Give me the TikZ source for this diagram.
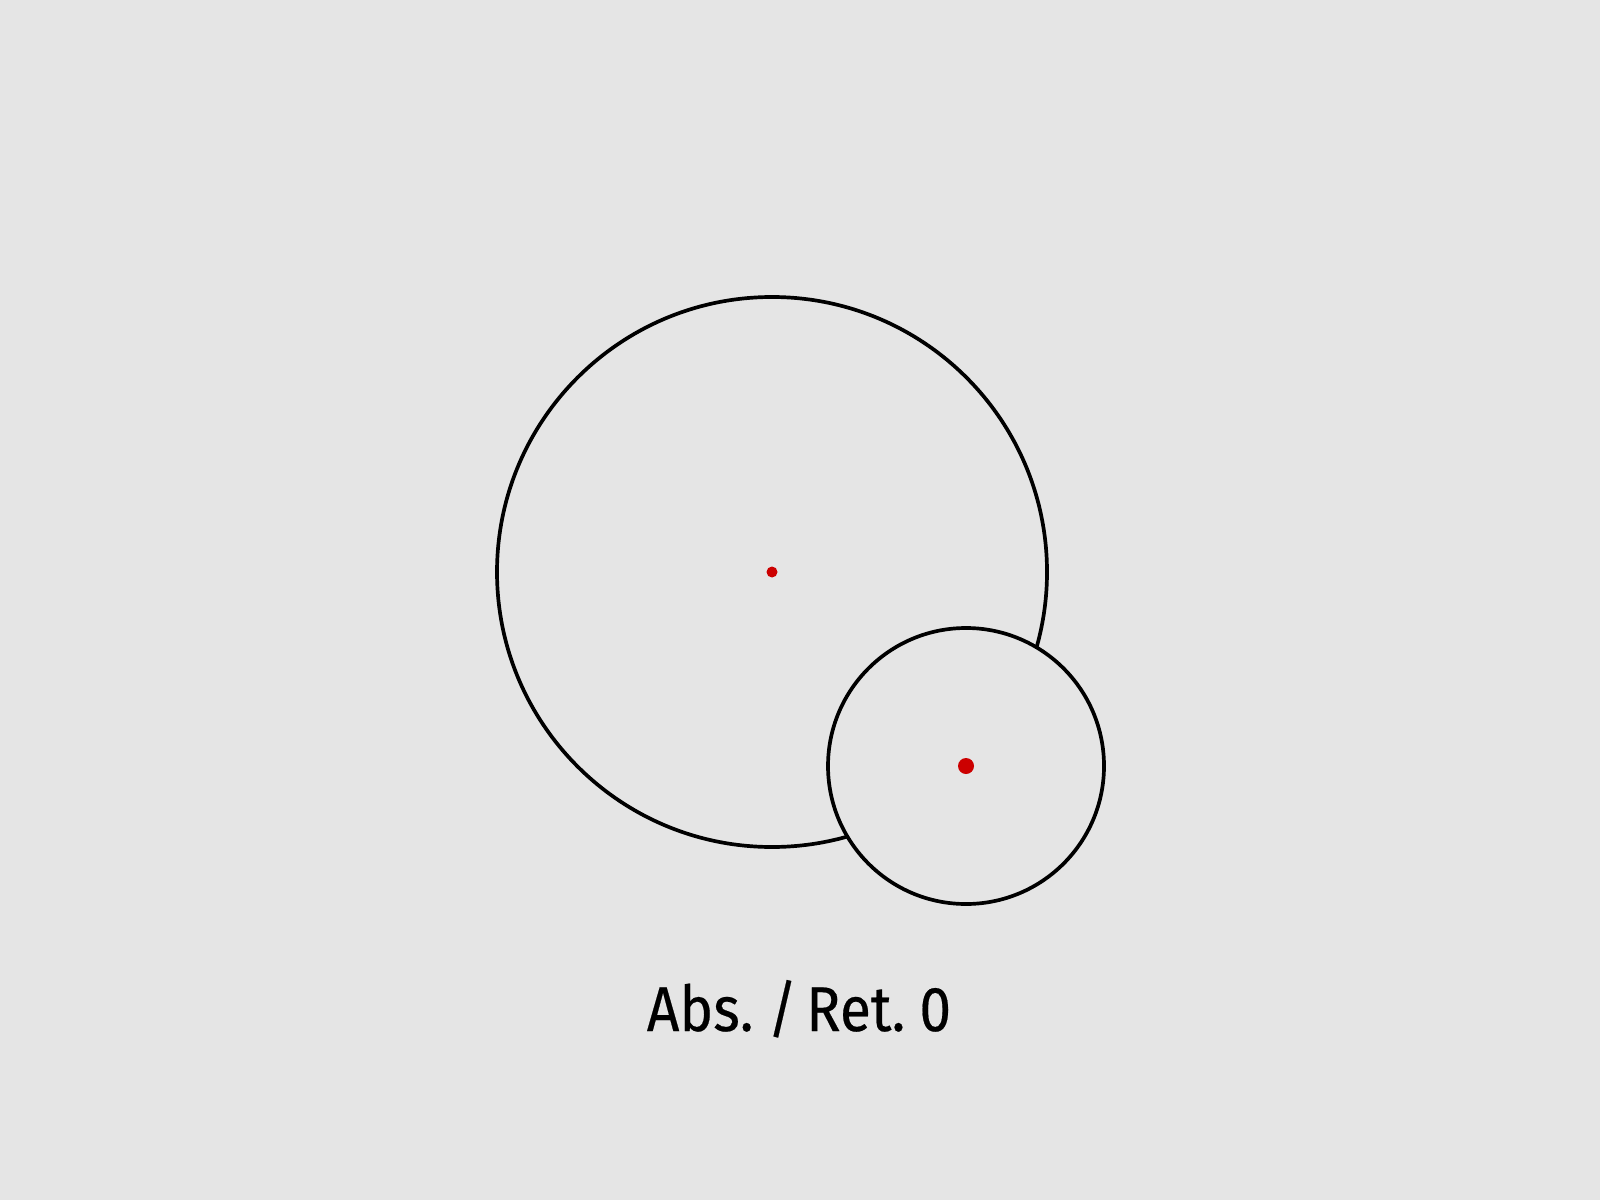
\documentclass[tikz,border=0pt]{standalone}
\usepackage{fontspec}
\setmainfont[WordSpace=0.6,FakeBold=0.35]{Fira Sans}
\definecolor{bg}{HTML}{E5E5E5}
\definecolor{dotred}{HTML}{CC0000}
\begin{document}
\begin{tikzpicture}
\tikzset{ring/.style={draw=black,line width=1.05pt},
  dotmark/.style={fill=dotred,draw=none}}
\fill[bg] (0,0) rectangle (16,12);
\useasboundingbox (0,0) rectangle (16,12);
\coordinate (c1) at (7.72,6.28);
\coordinate (c2) at (9.66,4.34);
\draw[ring] (c1) circle (2.75);
\draw[ring,fill=bg] (c2) circle (1.38);
\fill[dotmark] (c1) circle (0.055);
\fill[dotmark] (c2) circle (0.08);
\node[anchor=base,font=\fontsize{18}{22}\selectfont,inner sep=0pt] (lbl) at (7.99,1.69) {\scalebox{0.9}[1]{Abs. / Ret. 0}};
\end{tikzpicture}
\end{document}
